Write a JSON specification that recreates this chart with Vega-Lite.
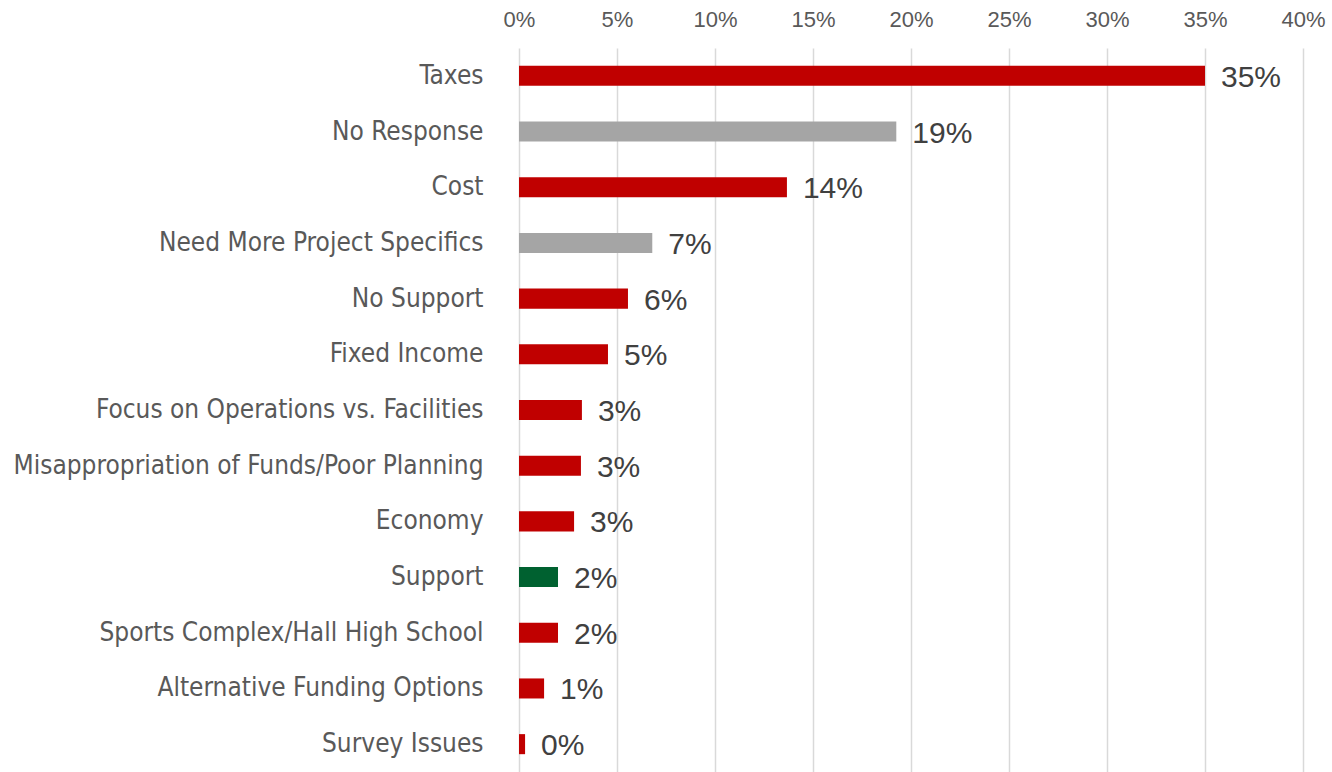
{
  "$schema": "https://vega.github.io/schema/vega-lite/v6.json",
  "width": 784,
  "height": 724,
  "autosize": "none",
  "padding": {"left": 519, "top": 48, "right": 29, "bottom": 0},
  "background": "white",
  "data": {"values": [
    {"reason": "Taxes", "pct": 0.35, "label": "35%", "group": "neg"},
    {"reason": "No Response", "pct": 0.1925, "label": "19%", "group": "neutral"},
    {"reason": "Cost", "pct": 0.1367, "label": "14%", "group": "neg"},
    {"reason": "Need More Project Specifics", "pct": 0.068, "label": "7%", "group": "neutral"},
    {"reason": "No Support", "pct": 0.0556, "label": "6%", "group": "neg"},
    {"reason": "Fixed Income", "pct": 0.0454, "label": "5%", "group": "neg"},
    {"reason": "Focus on Operations vs. Facilities", "pct": 0.0321, "label": "3%", "group": "neg"},
    {"reason": "Misappropriation of Funds/Poor Planning", "pct": 0.0316, "label": "3%", "group": "neg"},
    {"reason": "Economy", "pct": 0.0281, "label": "3%", "group": "neg"},
    {"reason": "Support", "pct": 0.0199, "label": "2%", "group": "pos"},
    {"reason": "Sports Complex/Hall High School", "pct": 0.0199, "label": "2%", "group": "neg"},
    {"reason": "Alternative Funding Options", "pct": 0.0128, "label": "1%", "group": "neg"},
    {"reason": "Survey Issues", "pct": 0.0031, "label": "0%", "group": "neg"}
  ]},
  "encoding": {
    "y": {
      "field": "reason", "type": "nominal", "sort": null, "title": null,
      "scale": {"paddingInner": 0.64, "paddingOuter": 0.32},
      "axis": {"domain": false, "ticks": false, "labelPadding": 36, "labelLimit": 600,
               "labelFont": "DejaVu Sans Condensed", "labelFontSize": 26, "labelColor": "#595959"}
    },
    "x": {
      "field": "pct", "type": "quantitative", "title": null,
      "scale": {"domain": [0, 0.4]},
      "axis": {"orient": "top", "format": "0%", "values": [0,0.05,0.1,0.15,0.2,0.25,0.3,0.35,0.4],
               "domain": false, "ticks": false, "labelPadding": 17, "labelFlush": false, "labelBound": false,
               "labelFont": "Liberation Sans", "labelFontSize": 22, "labelColor": "#595959",
               "grid": true, "gridColor": "#d9d9d9", "gridWidth": 1.5}
    }
  },
  "layer": [
    {
      "mark": {"type": "bar"},
      "encoding": {
        "color": {"field": "group", "type": "nominal", "legend": null,
                  "scale": {"domain": ["neg", "neutral", "pos"], "range": ["#C00000", "#A5A5A5", "#006130"]}}
      }
    },
    {
      "mark": {"type": "text", "align": "left", "baseline": "middle", "dx": 16, "dy": 2,
               "font": "Liberation Sans", "fontSize": 30, "color": "#404040"},
      "encoding": {"text": {"field": "label"}}
    }
  ],
  "config": {"view": {"stroke": null}}
}
